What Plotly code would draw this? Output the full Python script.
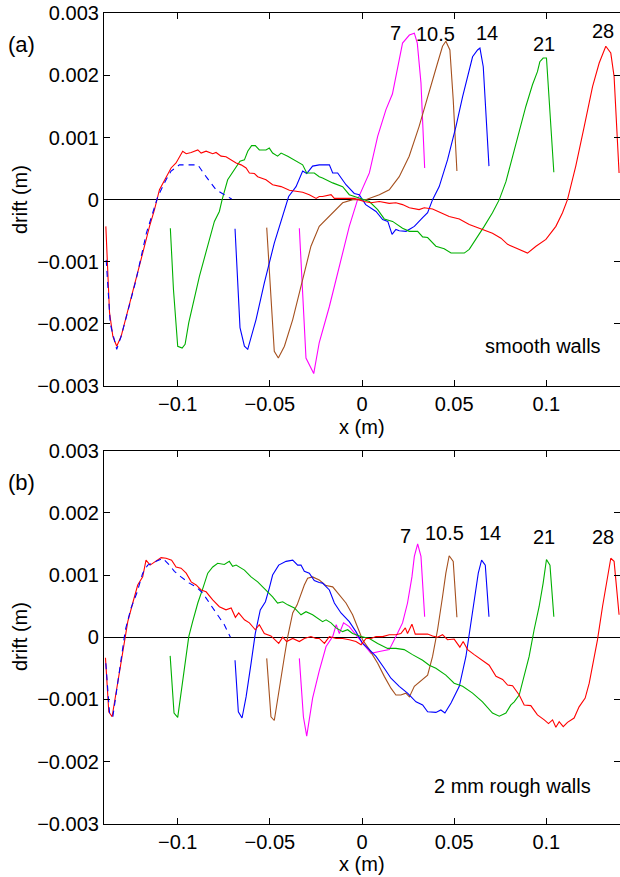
import plotly.graph_objects as go

# ---------------- data: panel (a) smooth walls ----------------
a_7 = [(-0.034, -0.00046), (-0.0304, -0.00255), (-0.0262, -0.0028), (-0.0232, -0.0023), (-0.0177, -0.00172),
       (-0.0123, -0.00107), (-0.0069, -0.00043), (-0.0024, 0.0), (0.004, 0.00043), (0.0085, 0.00102),
       (0.013, 0.00145), (0.0165, 0.0017), (0.0193, 0.00209), (0.022, 0.00252), (0.0257, 0.00265), (0.0284, 0.00268),
       (0.030, 0.00252), (0.032, 0.00188), (0.034, 0.00051)]
a_10_5 = [(-0.0517, -0.00045), (-0.0494, -0.0016), (-0.0476, -0.00244), (-0.0454, -0.00255), (-0.0421, -0.00236),
          (-0.0376, -0.00193), (-0.0322, -0.00129), (-0.0277, -0.00075), (-0.0232, -0.00043), (-0.0177, -0.00027),
          (-0.0105, -0.00005), (-0.005, 0.0), (0.002, 0.0), (0.0094, 0.00008), (0.0148, 0.00016), (0.0202, 0.00037),
          (0.0256, 0.0007), (0.031, 0.00118), (0.0365, 0.00172), (0.041, 0.0022), (0.0437, 0.00247),
          (0.0455, 0.00255), (0.0477, 0.00241), (0.0495, 0.00161), (0.0515, 0.00046)]
a_14 = [(-0.0689, -0.00047), (-0.0662, -0.00206), (-0.0638, -0.00236), (-0.062, -0.00241), (-0.0575, -0.00193),
        (-0.053, -0.00134), (-0.0476, -0.0007), (-0.043, -0.00027), (-0.0398, 0.00005), (-0.0358, 0.00021),
        (-0.0322, 0.00046), (-0.030, 0.00042), (-0.0268, 0.00054), (-0.0232, 0.00056), (-0.0177, 0.00056),
        (-0.0159, 0.00043), (-0.0132, 0.00043), (-0.0087, 0.00024), (-0.0042, 0.0001), (-0.0015, 0.00008),
        (0.002, -0.00008), (0.0076, -0.00019), (0.0112, -0.00032), (0.014, -0.00035), (0.0163, -0.00056),
        (0.0184, -0.00048), (0.0202, -0.0005), (0.0239, -0.00051), (0.0284, -0.00043), (0.0329, -0.00029),
        (0.0356, -0.00021), (0.0383, 0.0), (0.0419, 0.00021), (0.0464, 0.00064), (0.051, 0.00118),
        (0.0546, 0.00166), (0.0573, 0.00198), (0.06, 0.0023), (0.0627, 0.00241), (0.064, 0.00244),
        (0.0658, 0.00214), (0.0689, 0.00054)]
a_21 = [(-0.104, -0.00046), (-0.1023, -0.00145), (-0.1, -0.00236), (-0.0976, -0.00239), (-0.096, -0.00233),
        (-0.094, -0.00198), (-0.0882, -0.00123), (-0.0837, -0.00075), (-0.0801, -0.00035), (-0.0774, -0.00019),
        (-0.0759, 0.0), (-0.0729, 0.00032), (-0.0693, 0.00048), (-0.0662, 0.00062), (-0.0638, 0.00064),
        (-0.062, 0.00078), (-0.0599, 0.00087), (-0.0579, 0.00087), (-0.0557, 0.0008), (-0.0521, 0.0008),
        (-0.0503, 0.00083), (-0.0485, 0.00075), (-0.0458, 0.0007), (-0.0439, 0.00075), (-0.0403, 0.0007),
        (-0.0367, 0.00064), (-0.0322, 0.00056), (-0.030, 0.00043), (-0.0259, 0.00043), (-0.0232, 0.00037),
        (-0.0214, 0.00035), (-0.0159, 0.00027), (-0.0105, 0.00021), (-0.0069, 0.00008), (-0.0015, 0.00003),
        (0.004, -0.00003), (0.0085, -0.00016), (0.0121, -0.00031), (0.0166, -0.00035), (0.022, -0.00046),
        (0.0257, -0.00051), (0.0302, -0.00051), (0.0329, -0.0006), (0.0356, -0.00061), (0.0401, -0.00075),
        (0.0446, -0.00079), (0.0483, -0.00086), (0.0555, -0.00086), (0.0582, -0.0008), (0.0618, -0.00064),
        (0.0663, -0.00043), (0.0708, -0.00021), (0.0745, 0.0), (0.0781, 0.00029), (0.0817, 0.0007),
        (0.0853, 0.00113), (0.0889, 0.0015), (0.0925, 0.00185), (0.0952, 0.00206), (0.0965, 0.00222),
        (0.0983, 0.00228), (0.1001, 0.00228), (0.1016, 0.00161), (0.1041, 0.00044)]
a_28 = [(-0.139, -0.00043), (-0.137, -0.00182), (-0.1352, -0.0022), (-0.1331, -0.00236), (-0.1307, -0.0022),
        (-0.1271, -0.0018), (-0.1226, -0.00129), (-0.119, -0.00086), (-0.1153, -0.00043), (-0.1126, -0.00016),
        (-0.1099, 0.00016), (-0.1063, 0.00037), (-0.1036, 0.00051), (-0.1009, 0.00059), (-0.0973, 0.00078),
        (-0.0954, 0.00074), (-0.0927, 0.00076), (-0.0891, 0.0008), (-0.0873, 0.00075), (-0.0846, 0.00078),
        (-0.081, 0.00074), (-0.0792, 0.00076), (-0.0765, 0.0007), (-0.0738, 0.00069), (-0.071, 0.00064),
        (-0.0683, 0.00059), (-0.0656, 0.00056), (-0.0629, 0.00051), (-0.0611, 0.00043), (-0.0584, 0.00042),
        (-0.0566, 0.00037), (-0.0521, 0.00032), (-0.0485, 0.00024), (-0.0439, 0.00021), (-0.0394, 0.00015),
        (-0.0358, 0.00013), (-0.0322, 0.00012), (-0.0286, 0.00008), (-0.0249, 0.00002), (-0.0232, 0.00005),
        (-0.0214, 0.00005), (-0.0168, 0.00008), (-0.0150, 0.00002), (-0.0087, 0.00002), (-0.0042, 0.00002),
        (0.0012, -0.00003), (0.0049, -0.00005), (0.0094, -0.00003), (0.0148, -0.00006), (0.0184, -0.00005),
        (0.022, -0.00008), (0.0257, -0.00013), (0.031, -0.00016), (0.0338, -0.00013), (0.0383, -0.00015),
        (0.0428, -0.00021), (0.0473, -0.00027), (0.0528, -0.00031), (0.0582, -0.0004), (0.0636, -0.00046),
        (0.0708, -0.00054), (0.0754, -0.00062), (0.079, -0.00072), (0.0835, -0.00078), (0.0898, -0.00086),
        (0.0944, -0.00075), (0.0998, -0.00064), (0.1052, -0.00043), (0.1088, -0.00021), (0.1115, 0.0),
        (0.116, 0.00054), (0.1206, 0.00118), (0.1251, 0.00182), (0.1287, 0.0022), (0.1323, 0.00247),
        (0.135, 0.00236), (0.1368, 0.00198), (0.1395, 0.00043)]
a_dash = [(-0.1388, -0.00097), (-0.1366, -0.002), (-0.1331, -0.00241), (-0.1307, -0.0022), (-0.1271, -0.0018),
          (-0.1226, -0.00129), (-0.117, -0.00054), (-0.1108, 0.00005), (-0.1063, 0.00032), (-0.1036, 0.00046),
          (-0.0991, 0.00056), (-0.0954, 0.00056), (-0.0891, 0.00056), (-0.0846, 0.00037), (-0.0792, 0.00016),
          (-0.0747, 0.00008), (-0.0707, 0.00001)]

# ---------------- data: panel (b) 2 mm rough walls ----------------
b_7 = [(-0.034, -0.00034), (-0.0318, -0.00128), (-0.030, -0.00159), (-0.0268, -0.00098), (-0.0232, -0.00054),
       (-0.0195, -0.00015), (-0.0159, 0.00001), (-0.014, 0.0002), (-0.0123, 0.00006), (-0.010, 0.00023),
       (-0.0069, 0.00017), (-0.0033, 0.00004), (0.0012, -0.00012), (0.0049, -0.00026), (0.0094, -0.00023),
       (0.0148, -0.0002), (0.0184, 0.00001), (0.022, 0.00023), (0.0247, 0.00055), (0.0271, 0.00097),
       (0.0284, 0.0013), (0.0302, 0.0015), (0.032, 0.0013), (0.034, 0.00033)]
b_10_5 = [(-0.0517, -0.00034), (-0.0494, -0.00128), (-0.0476, -0.00134), (-0.0448, -0.00085), (-0.0421, -0.00031),
          (-0.0403, 0.00001), (-0.0376, 0.00039), (-0.0352, 0.00052), (-0.0331, 0.00071), (-0.0313, 0.00084),
          (-0.0295, 0.00095), (-0.0268, 0.00097), (-0.0232, 0.00092), (-0.0195, 0.00083), (-0.0159, 0.00081),
          (-0.0123, 0.00068), (-0.0087, 0.00055), (-0.0051, 0.00036), (-0.0024, 0.00017), (0.0003, -0.00004),
          (0.004, -0.0002), (0.0085, -0.00042), (0.0121, -0.00063), (0.0157, -0.00082), (0.0184, -0.00093),
          (0.0211, -0.00093), (0.0238, -0.0009), (0.0257, -0.00096), (0.0284, -0.00079), (0.032, -0.0007),
          (0.0356, -0.00061), (0.0383, -0.00031), (0.041, 0.00012), (0.0437, 0.00065), (0.0455, 0.00103),
          (0.0473, 0.00131), (0.0495, 0.00122), (0.0515, 0.00032)]
b_14 = [(-0.0689, -0.00037), (-0.0671, -0.0012), (-0.0651, -0.0013), (-0.0629, -0.00096), (-0.0602, -0.00042),
        (-0.0579, 0.00006), (-0.0552, 0.00044), (-0.0524, 0.00057), (-0.0503, 0.00079), (-0.0485, 0.001),
        (-0.0452, 0.00116), (-0.0412, 0.00122), (-0.0376, 0.00124), (-0.0349, 0.00116), (-0.0331, 0.00116),
        (-0.0313, 0.00106), (-0.0286, 0.00103), (-0.0259, 0.00091), (-0.0232, 0.00088), (-0.0214, 0.00087),
        (-0.0177, 0.00076), (-0.015, 0.00055), (-0.0114, 0.00039), (-0.0069, 0.00025), (-0.0033, 0.00009),
        (0.0003, -0.0001), (0.004, -0.0002), (0.0076, -0.00031), (0.0121, -0.0005), (0.0157, -0.00066),
        (0.0202, -0.00079), (0.0247, -0.0009), (0.0293, -0.00104), (0.0329, -0.00109), (0.0356, -0.0012),
        (0.0401, -0.00121), (0.0428, -0.00117), (0.045, -0.00122), (0.0483, -0.00106), (0.0528, -0.00079),
        (0.0564, -0.00031), (0.0586, 0.00012), (0.0609, 0.00065), (0.0631, 0.00103), (0.0649, 0.00124),
        (0.0669, 0.00116), (0.0689, 0.00033)]
b_21 = [(-0.1041, -0.0003), (-0.102, -0.00122), (-0.1, -0.00129), (-0.0973, -0.00074), (-0.094, 0.00001),
        (-0.0919, 0.00025), (-0.0891, 0.00055), (-0.0861, 0.00081), (-0.0837, 0.00103), (-0.081, 0.00113),
        (-0.0783, 0.00119), (-0.0747, 0.00117), (-0.072, 0.00122), (-0.0702, 0.00114), (-0.0683, 0.00116),
        (-0.0638, 0.00108), (-0.0602, 0.00097), (-0.0566, 0.00089), (-0.0521, 0.00076), (-0.0485, 0.00065),
        (-0.0458, 0.00055), (-0.043, 0.00057), (-0.0403, 0.00052), (-0.0367, 0.00047), (-0.0331, 0.00036),
        (-0.0304, 0.00041), (-0.0268, 0.00036), (-0.0232, 0.00028), (-0.0214, 0.00025), (-0.0195, 0.00028),
        (-0.0168, 0.00023), (-0.0141, 0.00015), (-0.0105, 0.00009), (-0.0078, 0.00012), (-0.0051, 0.00006),
        (-0.0005, 0.00001), (0.004, -0.00002), (0.0085, -0.0001), (0.0139, -0.00018), (0.0184, -0.00018),
        (0.0229, -0.0002), (0.0274, -0.00028), (0.0329, -0.00037), (0.0365, -0.00045), (0.0401, -0.0005),
        (0.0455, -0.00061), (0.05, -0.00074), (0.0546, -0.00079), (0.06, -0.0009), (0.0654, -0.00104),
        (0.0708, -0.00122), (0.0745, -0.00127), (0.0781, -0.00122), (0.0808, -0.00109), (0.0826, -0.00104),
        (0.0853, -0.00093), (0.088, -0.00063), (0.0907, -0.00031), (0.0934, 0.00012), (0.0961, 0.00049),
        (0.0983, 0.00087), (0.1001, 0.00125), (0.102, 0.00116), (0.1041, 0.00033)]
b_28 = [(-0.1392, -0.00033), (-0.1374, -0.0012), (-0.1356, -0.00128), (-0.1338, -0.00096), (-0.1312, -0.00047),
        (-0.1289, -0.00002), (-0.1271, 0.00025), (-0.1244, 0.00055), (-0.1217, 0.00084), (-0.119, 0.00097),
        (-0.1172, 0.00124), (-0.115, 0.00116), (-0.1121, 0.00122), (-0.109, 0.00128), (-0.1063, 0.00127),
        (-0.1033, 0.00124), (-0.1009, 0.00113), (-0.0982, 0.00111), (-0.0954, 0.00103), (-0.0927, 0.00089),
        (-0.09, 0.00084), (-0.0873, 0.00076), (-0.0846, 0.00073), (-0.081, 0.0006), (-0.0774, 0.00049),
        (-0.0738, 0.00044), (-0.071, 0.00047), (-0.0687, 0.00032), (-0.0669, 0.00039), (-0.0638, 0.00028),
        (-0.0611, 0.00023), (-0.0579, 0.00012), (-0.0557, 0.0002), (-0.053, 0.00006), (-0.0494, 0.00002),
        (-0.0452, -0.0001), (-0.043, 0.0), (-0.0409, -0.00007), (-0.0376, -0.00002), (-0.034, -0.00007),
        (-0.0313, -0.00002), (-0.0277, 0.00001), (-0.025, -0.00002), (-0.0232, -0.00002), (-0.0204, -0.0001),
        (-0.0177, 0.00001), (-0.0141, -0.00002), (-0.0105, -0.00002), (-0.0069, -0.00004), (-0.0033, -0.00007),
        (-0.0005, -0.00012), (0.0022, -0.00002), (0.0049, -0.00002), (0.0076, 0.00001), (0.0112, 0.00001),
        (0.0148, 0.00004), (0.0184, 0.00004), (0.0211, 0.00006), (0.0235, 0.00015), (0.0247, 0.00006),
        (0.0271, 0.00021), (0.0289, 0.00005), (0.032, 0.00005), (0.0356, 0.00005), (0.0383, 0.00002),
        (0.041, 0.0), (0.0437, 0.00004), (0.0464, -0.00004), (0.05, -0.00003), (0.0531, -0.00016),
        (0.0549, -0.00007), (0.0573, -0.0002), (0.0609, -0.00028), (0.0645, -0.00035), (0.069, -0.00045),
        (0.0727, -0.00063), (0.0763, -0.00068), (0.079, -0.00077), (0.0817, -0.00078), (0.0853, -0.00093),
        (0.088, -0.00109), (0.0916, -0.0011), (0.0952, -0.00125), (0.0989, -0.00133), (0.1012, -0.00139),
        (0.1034, -0.00133), (0.1052, -0.00145), (0.107, -0.00136), (0.1092, -0.00144), (0.1115, -0.00137),
        (0.1151, -0.0013), (0.1178, -0.00112), (0.1211, -0.00098), (0.1233, -0.00074), (0.1254, -0.00042),
        (0.1278, -0.00004), (0.1305, 0.00049), (0.1332, 0.00097), (0.135, 0.00127), (0.1368, 0.00122),
        (0.1395, 0.00036)]
b_dash = [(-0.139, -0.00042), (-0.137, -0.00122), (-0.1352, -0.00128), (-0.1316, -0.00053), (-0.1284, 0.00012),
          (-0.1253, 0.00047), (-0.1222, 0.00071), (-0.119, 0.00103), (-0.1163, 0.00116), (-0.1117, 0.00122),
          (-0.1081, 0.00127), (-0.1045, 0.00116), (-0.1018, 0.00106), (-0.0982, 0.00097), (-0.0937, 0.00087),
          (-0.09, 0.00081), (-0.0864, 0.00071), (-0.0828, 0.00055), (-0.0783, 0.00036), (-0.0747, 0.0002),
          (-0.0714, 0.0)]

series_names = ["7", "10.5", "14", "21", "28"]
series_colors = ["#ff00ff", "#a5501e", "#0000ff", "#00b000", "#ff0000"]
panel_a = [a_7, a_10_5, a_14, a_21, a_28]
panel_b = [b_7, b_10_5, b_14, b_21, b_28]

x_tickvals = [-0.1, -0.05, 0, 0.05, 0.1]
x_ticktext = ["\u22120.1", "\u22120.05", "0", "0.05", "0.1"]
y_tickvals = [-0.003, -0.002, -0.001, 0, 0.001, 0.002, 0.003]
y_ticktext = ["\u22120.003", "\u22120.002", "\u22120.001", "0", "0.001", "0.002", "0.003"]

# label positions (data coordinates)
a_label_x = [0.0184, 0.0401, 0.0678, 0.0989, 0.1309]
a_label_y = [0.00268, 0.00267, 0.00268, 0.0025, 0.00272]
b_label_x = [0.0235, 0.045, 0.0694, 0.0989, 0.1309]
b_label_y = [0.00162, 0.00167, 0.00167, 0.00161, 0.00161]

FONT = "Liberation Sans, Arial, Helvetica, sans-serif"
FS = 20

fig = go.Figure()

def add_panel(curves, dash, xa, ya):
    for pts, nm, col in zip(curves, series_names, series_colors):
        fig.add_trace(go.Scatter(x=[p[0] for p in pts], y=[p[1] for p in pts], mode="lines",
                                 line=dict(color=col, width=1.1), name=nm, xaxis=xa, yaxis=ya,
                                 showlegend=False, hoverinfo="skip"))
    fig.add_trace(go.Scatter(x=[p[0] for p in dash], y=[p[1] for p in dash], mode="lines",
                             line=dict(color="#0000ff", width=1.1, dash="6px,5px"), xaxis=xa, yaxis=ya,
                             showlegend=False, hoverinfo="skip"))

add_panel(panel_a, a_dash, "x", "y")
add_panel(panel_b, b_dash, "x2", "y2")

axis_common = dict(showline=True, linecolor="black", linewidth=1.2, mirror="ticks", ticks="inside",
                   ticklen=6, tickcolor="black", showgrid=False, automargin=False,
                   tickfont=dict(family=FONT, size=FS, color="black"))

fig.update_layout(
    template="none",
    width=620, height=877,
    margin=dict(l=104, r=0, t=0, b=0),
    paper_bgcolor="white", plot_bgcolor="white",
    font=dict(family=FONT, size=FS, color="black"),
    xaxis=dict(domain=[0, 1], anchor="y", range=[-0.14, 0.14], tickvals=x_tickvals, ticktext=x_ticktext,
               zeroline=False, **axis_common),
    yaxis=dict(domain=[1 - 386.0 / 877, 1 - 13.3 / 877], anchor="x", range=[-0.003, 0.003],
               tickvals=y_tickvals, ticktext=y_ticktext, zeroline=True, zerolinecolor="black",
               zerolinewidth=1, **axis_common),
    xaxis2=dict(domain=[0, 1], anchor="y2", range=[-0.14, 0.14], tickvals=x_tickvals, ticktext=x_ticktext,
                zeroline=False, **axis_common),
    yaxis2=dict(domain=[1 - 823.7 / 877, 1 - 450.7 / 877], anchor="x2", range=[-0.003, 0.003],
                tickvals=y_tickvals, ticktext=y_ticktext, zeroline=True, zerolinecolor="black",
                zerolinewidth=1, **axis_common),
)

for lx, ly, nm in zip(a_label_x, a_label_y, series_names):
    fig.add_annotation(x=lx, y=ly, xref="x", yref="y", text=nm, showarrow=False,
                       xanchor="center", yanchor="middle",
                       font=dict(family=FONT, size=FS, color="black"))
for lx, ly, nm in zip(b_label_x, b_label_y, series_names):
    fig.add_annotation(x=lx, y=ly, xref="x2", yref="y2", text=nm, showarrow=False,
                       xanchor="center", yanchor="middle",
                       font=dict(family=FONT, size=FS, color="black"))

fig.add_annotation(x=0.098, y=-0.00236, xref="x", yref="y", text="smooth walls", showarrow=False,
                   xanchor="center", yanchor="middle", font=dict(family=FONT, size=FS, color="black"))
fig.add_annotation(x=0.0815, y=-0.0024, xref="x2", yref="y2", text="2 mm rough walls", showarrow=False,
                   xanchor="center", yanchor="middle", font=dict(family=FONT, size=FS, color="black"))

# panel letters and axis titles (pixel-placed via paper coords)
def paper_xy(px, py):
    return (px - 104) / 516.0, 1 - py / 877.0

for txt, (px, py) in [("(a)", (21, 45)), ("(b)", (21, 482))]:
    xx, yy = paper_xy(px, py)
    fig.add_annotation(x=xx, y=yy, xref="paper", yref="paper", text=txt, showarrow=False,
                       xanchor="center", yanchor="middle", font=dict(family=FONT, size=22, color="black"))
for px, py in [(20, 200), (20, 637)]:
    xx, yy = paper_xy(px, py)
    fig.add_annotation(x=xx, y=yy, xref="paper", yref="paper", text="drift (m)", textangle=-90,
                       xanchor="center", yanchor="middle",
                       showarrow=False, font=dict(family=FONT, size=FS, color="black"))
for px, py in [(362, 427), (362, 864)]:
    xx, yy = paper_xy(px, py)
    fig.add_annotation(x=xx, y=yy, xref="paper", yref="paper", text="x (m)", showarrow=False,
                       xanchor="center", yanchor="middle", font=dict(family=FONT, size=FS, color="black"))

fig.write_html("out.html", config={"displayModeBar": False},
               post_script="document.body.style.margin='0';document.body.style.overflow='hidden';")
